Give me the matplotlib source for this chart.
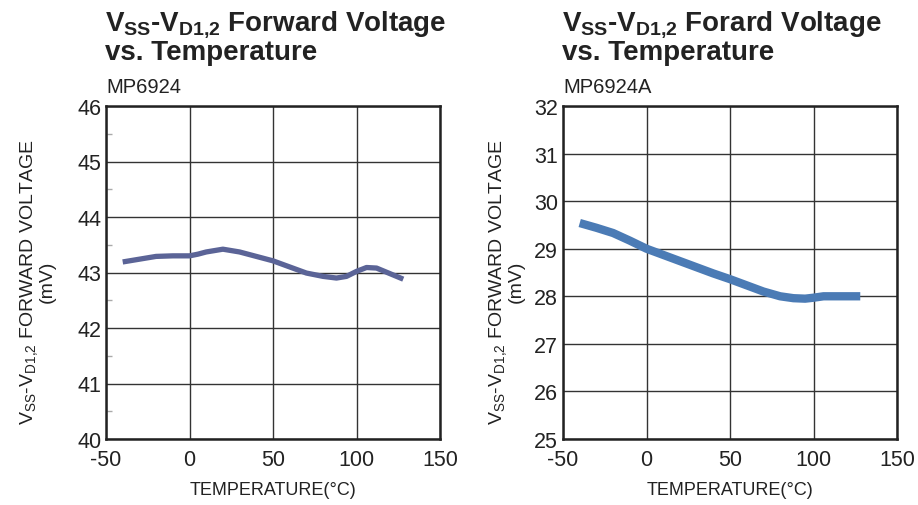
import matplotlib
matplotlib.use("Agg")
import matplotlib.pyplot as plt
from matplotlib.ticker import MultipleLocator

plt.rcParams['font.family'] = ['Liberation Sans', 'DejaVu Sans']
plt.rcParams['mathtext.fontset'] = 'custom'
plt.rcParams['mathtext.rm'] = 'Liberation Sans'
plt.rcParams['mathtext.it'] = 'Liberation Sans'
plt.rcParams['mathtext.bf'] = 'Liberation Sans:bold'
plt.rcParams['axes.unicode_minus'] = False

# Data
temp_left = [-40, -30, -20, -10, 0, 5, 10, 20, 30, 40, 50, 60, 70, 80, 88, 94, 100, 106, 112, 120, 128]
volt_left = [43.19, 43.24, 43.29, 43.30, 43.30, 43.33, 43.37, 43.42, 43.37, 43.29, 43.21, 43.10,
             42.99, 42.93, 42.90, 42.93, 43.02, 43.09, 43.08, 42.98, 42.88]
temp_right = [-40, -30, -20, -10, 0, 10, 20, 30, 40, 50, 60, 70, 80, 88, 95, 100, 106, 115, 128]
volt_right = [29.54, 29.44, 29.33, 29.17, 29.00, 28.87, 28.74, 28.61, 28.48, 28.36, 28.23, 28.10,
              28.00, 27.96, 27.95, 27.97, 28.00, 28.00, 28.00]
x_ticks = [-50, 0, 50, 100, 150]
left_yticks = [40, 41, 42, 43, 44, 45, 46]
right_yticks = [25, 26, 27, 28, 29, 30, 31, 32]

title_line1 = [r"$\mathbf{V_{SS}}$-$\mathbf{V_{D1{,}2}}$ Forward Voltage",
               r"$\mathbf{V_{SS}}$-$\mathbf{V_{D1{,}2}}$ Forard Voltage"]
title_line2 = "vs. Temperature"
subtitles = ["MP6924", "MP6924A"]
ylabel = r"$\mathregular{V_{SS}}$-$\mathregular{V_{D1{,}2}}$ FORWARD VOLTAGE" + "\n(mV)"
xlabel = "TEMPERATURE(°C)"

W, H = 918, 506
fig = plt.figure(figsize=(W / 100, H / 100), dpi=100)

def make_ax(x0, x1, y0, y1):
    return fig.add_axes([x0 / W, 1 - y1 / H, (x1 - x0) / W, (y1 - y0) / H])

axL = make_ax(106, 440, 107, 440)
axR = make_ax(563, 897, 107, 440)

specs = [
    (axL, 106, 37, temp_left, volt_left, left_yticks, "#5b6497", 3.8, title_line1[0], subtitles[0], True),
    (axR, 563, 506, temp_right, volt_right, right_yticks, "#4b7bb5", 6.0, title_line1[1], subtitles[1], False),
]

txtc = "#222222"
for ax, x0, ylx, xs, ys, yt, col, lw, t1, sub, minor in specs:
    ax.plot(xs, ys, color=col, lw=lw, solid_capstyle='butt', solid_joinstyle='round', zorder=3)
    ax.set_xlim(-50, 150)
    ax.set_ylim(yt[0], yt[-1])
    ax.set_xticks(x_ticks)
    ax.set_yticks(yt)
    ax.grid(True, color="#333333", lw=1.0)
    for s in ax.spines.values():
        s.set_linewidth(1.8)
        s.set_color(txtc)
    ax.tick_params(axis='both', length=0, labelsize=15.5, colors=txtc)
    ax.tick_params(axis='x', pad=7)
    ax.tick_params(axis='y', pad=3.5)
    if minor:
        ax.yaxis.set_minor_locator(MultipleLocator(0.5))
        ax.tick_params(axis='y', which='minor', direction='in', length=4, color="#aaaaaa", width=1)
    ax.set_xlabel(xlabel, fontsize=13, labelpad=8, color=txtc)
    fig.text(ylx / W, 1 - 282 / H, ylabel, rotation=90, fontsize=14, ha='center', va='center',
             multialignment='center', color=txtc, linespacing=0.9)
    fig.text(x0 / W, 1 - 93 / H, sub, fontsize=14.5, ha='left', va='baseline', color=txtc)
    fig.text((x0 - 1) / W, 1 - 30 / H, t1, fontsize=20, fontweight='bold',
             ha='left', va='baseline', color=txtc)
    fig.text((x0 - 1) / W, 1 - 60 / H, title_line2, fontsize=20, fontweight='bold',
             ha='left', va='baseline', color=txtc)

fig.savefig("out.png", dpi=100, facecolor='white')
